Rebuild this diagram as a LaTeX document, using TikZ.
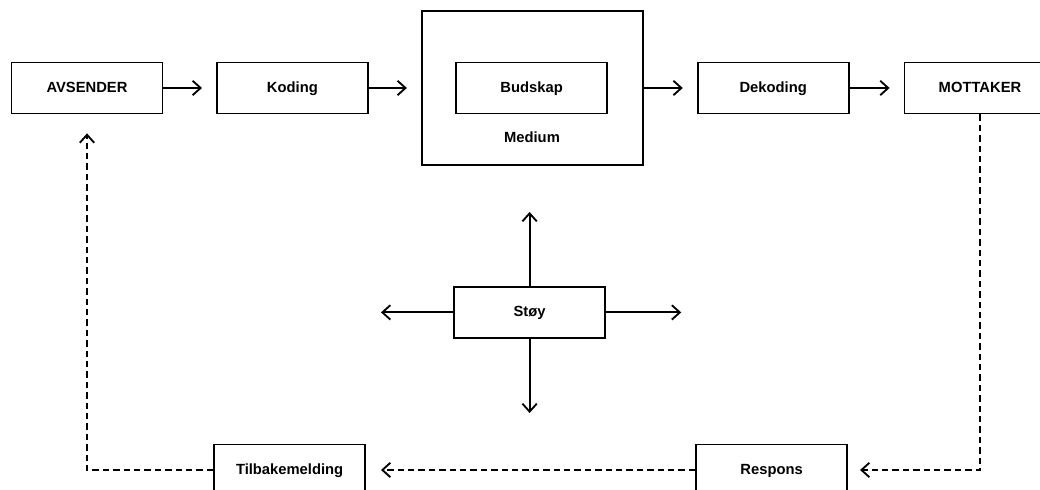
\documentclass[tikz,border=0pt]{standalone}
\usepackage{fontspec}
\setmainfont{Liberation Sans}
\usepackage{tikz}
\usetikzlibrary{arrows.meta}

\begin{document}
\begin{tikzpicture}[line width=1.3pt, >={Straight Barb[length=2mm,width=3.6mm,line width=1.3pt]},
  boks/.style={draw,rectangle,minimum width=3.775cm,minimum height=1.275cm,text height=1.6ex,text depth=0.45ex,font=\fontsize{10.5}{12}\selectfont\bfseries},
  tekst/.style={font=\fontsize{10.5}{12}\selectfont\bfseries},
  stiplet/.style={dash pattern=on 1.6mm off 1mm}]
\useasboundingbox (0,0) rectangle (26,12.25);
\clip (0,0) rectangle (26,12.25);
% øverste rad
\node at (2.175,10.05) [boks](avsender){AVSENDER};
\node at (7.31,10.05) [boks](koding){Koding};
\node at (13.31,10.05) [draw,rectangle,minimum width=5.53cm,minimum height=3.85cm](medium){};
\node at (13.29,10.05) [boks](budskap){Budskap};
\node at (13.3,8.825) [tekst](mediumtekst){Medium};
\node at (19.33,10.05) [boks](dekoding){Dekoding};
\node at (24.5,10.05) [boks](mottaker){MOTTAKER};
% støy
\node at (13.24,4.44) [boks](stoy){Støy};
\coordinate (opp) at (13.24,6.95);
\coordinate (ned) at (13.24,1.925);
\coordinate (venstre) at (9.525,4.44);
\coordinate (hoyre) at (17.03,4.44);
% nederste rad
\node at (7.24,0.5) [boks](tilbake){Tilbakemelding};
\node at (19.29,0.5) [boks](respons){Respons};
% piler
\draw[->,shorten >=0.35cm](avsender) -- (koding);
\draw[->,shorten >=0.35cm](koding) -- (medium);
\draw[->,shorten >=0.35cm](medium) -- (dekoding);
\draw[->,shorten >=0.35cm](dekoding) -- (mottaker);
\draw[->](stoy) -- (opp);
\draw[->](stoy) -- (ned);
\draw[->](stoy) -- (venstre);
\draw[->](stoy) -- (hoyre);
\draw[->,stiplet,shorten >=0.3cm](mottaker.south) |- (respons.east);
\draw[->,stiplet,shorten >=0.375cm](respons.west) -- (tilbake.east);
\draw[->,stiplet,shorten >=0.475cm](tilbake.west) -| (avsender.south);
\end{tikzpicture}
\end{document}
